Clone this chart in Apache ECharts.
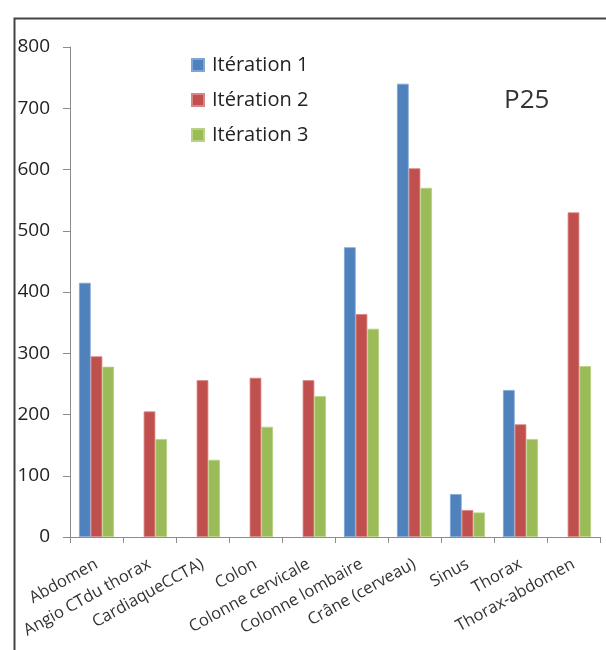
<!DOCTYPE html>
<html>
<head>
<meta charset="utf-8">
<script src="https://cdn.jsdelivr.net/npm/echarts@6/dist/echarts.min.js"></script>
<style>
  html, body { margin: 0; padding: 0; background: #fff; }
  #chart { width: 606px; height: 650px; }
</style>
</head>
<body>
<div id="chart"></div>
<script>
// Categories of examination
const categories = [
  'Abdomen', 'Angio CTdu thorax', 'CardiaqueCCTA)', 'Colon', 'Colonne cervicale',
  'Colonne lombaire', 'Crâne (cerveau)', 'Sinus', 'Thorax', 'Thorax-abdomen'
];
// P25 values per iteration (null = no value)
const iteration1 = [415, null, null, null, null, 473, 740, 70, 240, null];
const iteration2 = [295, 205, 256, 260, 256, 364, 602, 44, 184, 530];
const iteration3 = [278, 160, 126, 180, 230, 340, 570, 40, 160, 279];
const seriesNames = ['Itération 1', 'Itération 2', 'Itération 3'];
const yTicks = { min: 0, max: 800, interval: 100 };
const titleText = 'P25';

const colors = ['#4F81BD', '#C0504D', '#9BBB59'];
const edgeColors = ['#7FA6D6', '#D98583', '#B9D383'];
const font = 'Open Sans, Noto Sans, sans-serif';

const chart = echarts.init(document.getElementById('chart'), null, { renderer: 'canvas' });

const makeSeries = (name, data, i) => ({
  name,
  type: 'bar',
  data,
  barGap: '0%',
  barCategoryGap: '34%',
  itemStyle: { color: colors[i], borderColor: edgeColors[i], borderWidth: 0.8 },
  emphasis: { disabled: true }
});

chart.setOption({
  animation: false,
  color: colors,
  graphic: [{
    type: 'rect',
    left: 12, top: 16,
    shape: { width: 700, height: 700 },
    style: { fill: 'none', stroke: '#444', lineWidth: 2 },
    silent: true
  }],
  title: {
    text: titleText,
    left: 499, top: 83,
    textStyle: { fontFamily: font, fontSize: 26, fontWeight: 'normal', color: '#333' }
  },
  legend: {
    orient: 'vertical',
    left: 186, top: 50,
    itemWidth: 12, itemHeight: 12, itemGap: 15,
    icon: 'rect',
    textStyle: { fontFamily: font, fontSize: 20, color: '#222', padding: [0, 0, 0, 3] },
    data: seriesNames
  },
  grid: { left: 70, right: 6, top: 47, bottom: 113, containLabel: false },
  xAxis: {
    type: 'category',
    data: categories,
    boundaryGap: true,
    axisLine: { lineStyle: { color: '#8c8c8c', width: 1 } },
    axisTick: { show: true, alignWithLabel: false, length: 6, lineStyle: { color: '#8c8c8c' } },
    axisLabel: {
      interval: 0, rotate: 29, margin: 26,
      fontFamily: font, fontSize: 16.5, color: '#333'
    },
    splitLine: { show: false }
  },
  yAxis: {
    type: 'value',
    min: yTicks.min, max: yTicks.max, interval: yTicks.interval,
    axisLine: { show: true, lineStyle: { color: '#8c8c8c', width: 1 } },
    axisTick: { show: true, length: 7, lineStyle: { color: '#8c8c8c' } },
    axisLabel: { fontFamily: font, fontSize: 19, color: '#222', margin: 20 },
    splitLine: { show: false }
  },
  series: [
    makeSeries(seriesNames[0], iteration1, 0),
    makeSeries(seriesNames[1], iteration2, 1),
    makeSeries(seriesNames[2], iteration3, 2)
  ]
});
</script>
</body>
</html>
